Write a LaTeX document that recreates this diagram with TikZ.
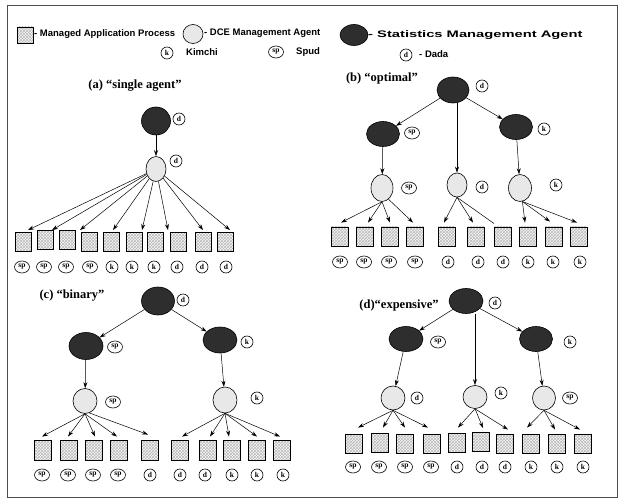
\documentclass[tikz,border=0pt]{standalone}
\usepackage{fontspec}
\setmainfont{Liberation Serif}
\newfontfamily\legfont{Liberation Sans}
\usetikzlibrary{shapes.geometric,patterns,arrows.meta,calc}
\begin{document}
\begin{tikzpicture}[x=1pt,y=-1pt,
  mp/.style={rectangle,draw,line width=0.9pt,minimum width=16pt,minimum height=19pt,inner sep=0pt,
    preaction={fill=gray!6},pattern=crosshatch,pattern color=gray!55},
  dce/.style={ellipse,draw,line width=0.6pt,fill=gray!18,inner sep=0pt},
  sma/.style={ellipse,draw,line width=0.6pt,fill=black!82,inner sep=0pt},
  lab/.style={ellipse,draw,line width=0.6pt,inner sep=0pt,minimum width=12pt,minimum height=12pt,font=\fontsize{7.5}{8}\selectfont\bfseries},
  labw/.style={lab,minimum width=15pt},
  ttl/.style={font=\fontsize{12.5}{14}\selectfont\bfseries,inner sep=0pt},
  leg/.style={font=\legfont\fontsize{9.5}{11}\selectfont\bfseries,inner sep=0pt,anchor=west},
  arr/.style={-{Stealth[length=6pt,width=4pt]},line width=0.5pt},
  ln/.style={line width=0.5pt}]
\useasboundingbox (0,0) rectangle (623,502);
\draw[line width=0.8pt,black!70] (7,5) rectangle (617,497);

% ---------- legend ----------
\node[mp,minimum width=16pt,minimum height=16pt] (legmp) at (25,35) {};
\node[leg] (legmpt) at (34,34) {- Managed Application Process};
\node[dce,minimum width=20pt,minimum height=19pt] (legdce) at (193,34) {};
\node[leg] (legdcet) at (204,33) {- DCE Management Agent};
\node[sma,minimum width=28pt,minimum height=21pt] (legsma) at (354,35) {};
\node[leg] (legsmat) at (368,35) {\scalebox{1.55}[1]{- Statistics Management Agent}};
\node[lab] (legk) at (167,53) {k};
\node[leg] (legkt) at (186,52) {Kimchi};
\node[labw] (legsp) at (276,52) {sp};
\node[leg] (legspt) at (296,52) {Spud};
\node[lab] (legd) at (406,55) {d};
\node[leg] (legdt) at (419,54) {- Dada};

% ---------- (a) single agent ----------
\node[ttl] (atitle) at (135,86) {(a) “single agent”};
\node[sma,minimum width=29pt,minimum height=28pt] (aT) at (156,121) {};
\node[lab] (aTl) at (179,119) {d};
\node[dce,minimum width=20pt,minimum height=25pt] (aG) at (156,169) {};
\node[lab] (aGl) at (176,161) {d};
\foreach \i/\x/\y in {1/23.5/242,2/45/240,3/67/240,4/89.5/242,5/111.5/242,6/134/242,7/155.5/242,8/178/242,9/203.5/242,10/225.5/242}
  \node[mp] (aS\i) at (\x,\y) {};
\foreach \i/\x/\t/\s in {1/22/sp/labw,2/44/sp/labw,3/66/sp/labw,4/90/sp/labw,5/112/k/lab,6/132/k/lab,7/154/k/lab,8/177/d/lab,9/202/d/lab,10/226/d/lab}
  \node[\s] (aL\i) at (\x,267) {\t};
\draw[arr] (aT) -- (aG);
\draw[arr] (aG) -- ([xshift=4.5pt,yshift=2pt]aS1.north);
\draw[arr] (aG) -- ([xshift=7pt,yshift=0pt]aS2.north);
\draw[arr] (aG) -- ([xshift=13pt,yshift=0pt]aS3.north);
\draw[arr] (aG) -- ([xshift=1.5pt,yshift=2pt]aS5.north);
\draw[arr] (aG) -- ([xshift=8pt,yshift=2pt]aS6.north);
\draw[arr] (aG) -- ([xshift=-10pt,yshift=2pt]aS8.north);
\draw[arr] (aG) -- ([xshift=-0.5pt,yshift=2pt]aS9.north);
\draw[arr] (aG) -- ([xshift=4.5pt,yshift=2pt]aS10.north);

% ---------- (b) optimal ----------
\node[ttl] (btitle) at (382,78) {(b) “optimal”};
\node[sma,minimum width=32pt,minimum height=26pt] (bT) at (453,90) {};
\node[lab] (bTl) at (482,86) {d};
\node[sma,minimum width=33pt,minimum height=25pt] (bL) at (383,134) {};
\node[labw] (bLl) at (412,133) {sp};
\node[sma,minimum width=33pt,minimum height=25pt] (bR) at (516,127) {};
\node[lab] (bRl) at (544,129) {k};
\node[dce,minimum width=22pt,minimum height=27pt] (bG1) at (382,188) {};
\node[labw] (bG1l) at (409,188) {sp};
\node[dce,minimum width=20pt,minimum height=24pt] (bG2) at (457,185) {};
\node[lab] (bG2l) at (482,187) {d};
\node[dce,minimum width=23pt,minimum height=27pt] (bG3) at (520,188) {};
\node[lab] (bG3l) at (556,185) {k};
\foreach \i/\x in {1/339.5,2/364.5,3/389.5,4/415,5/446.5,6/476,7/503,8/528,9/553.5,10/578.5}
  \node[mp,minimum width=17pt] (bS\i) at (\x,236.5) {};
\foreach \i/\x/\t/\s in {1/340/sp/labw,2/364/sp/labw,3/389/sp/labw,4/415/sp/labw,5/448/d/lab,6/478/d/lab,7/503/d/lab,8/528/k/lab,9/553/k/lab,10/580/k/lab}
  \node[\s] (bL\i) at (\x,262) {\t};
\draw[arr] (bT) -- (bL);
\draw[arr] (bT) -- (bR);
\draw[arr] (bG2 |- bT.south) -- (bG2.north);
\draw[arr] (bL) -- (bG1);
\draw[arr] (bR) -- (bG3);
\draw[arr] (bG1.south) -- ([xshift=1.5pt,yshift=4pt]bS1.north);
\draw[arr] (bG1.south) -- ([xshift=3.5pt,yshift=4pt]bS2.north);
\draw[arr] (bG1.south) -- ([xshift=0.5pt,yshift=4pt]bS3.north);
\draw[arr] (bG1.-60) -- ([xshift=-2pt,yshift=4pt]bS4.north);
\draw[arr] (bG2.south) -- ([xshift=-2.5pt,yshift=4pt]bS5.north);
\draw[arr] (bG2.south) -- ([xshift=-3pt,yshift=4pt]bS6.north);
\draw[ln] (bG2.south) -- ([yshift=3pt]bS7.north west);
\draw[arr] (bG3.-80) -- ([xshift=-3pt,yshift=4pt]bS8.north);
\draw[arr] (bG3.-80) -- ([xshift=-3.5pt,yshift=5pt]bS9.north);
\draw[arr] (bG3.-80) -- ([xshift=-1.5pt,yshift=4pt]bS10.north);

% ---------- (c) binary ----------
\node[ttl] (ctitle) at (72,296) {(c) “binary”};
\node[sma,minimum width=33pt,minimum height=28pt] (cT) at (158,301) {};
\node[lab] (cTl) at (183,300) {d};
\node[sma,minimum width=34pt,minimum height=27pt] (cL) at (86,346) {};
\node[labw] (cLl) at (115,347) {sp};
\node[sma,minimum width=34pt,minimum height=26pt] (cR) at (220,340) {};
\node[lab] (cRl) at (247,342) {k};
\node[dce,minimum width=24pt,minimum height=25pt] (cG1) at (85,401) {};
\node[labw] (cG1l) at (113,402) {sp};
\node[dce,minimum width=24pt,minimum height=26pt] (cG2) at (225,400) {};
\node[lab] (cG2l) at (257,398) {k};
\foreach \i/\x in {1/42.5,2/68.5,3/93.5,4/118.5,5/150,6/180,7/207.5,8/231.5,9/256.5,10/281.5}
  \node[mp,minimum width=17pt,minimum height=20pt] (cS\i) at (\x,450) {};
\foreach \i/\x/\t/\s in {1/42/sp/labw,2/68/sp/labw,3/93/sp/labw,4/118/sp/labw,5/150/d/lab,6/180/d/lab,7/205/d/lab,8/232/k/lab,9/257/k/lab,10/283/k/lab}
  \node[\s] (cL\i) at (\x,475) {\t};
\draw[arr] (cT) -- (cL);
\draw[arr] (cT) -- (cR);
\draw[arr] (cL) -- (cG1);
\draw[arr] (cR) -- (cG2);
\draw[arr] (cG1.south) -- ([xshift=-0.5pt,yshift=3pt]cS1.north);
\draw[arr] (cG1.south) -- ([xshift=-0.5pt,yshift=3pt]cS2.north);
\draw[arr] (cG1.south) -- ([xshift=1.5pt,yshift=3pt]cS3.north);
\draw[arr] (cG1.south) -- ([xshift=-1.5pt,yshift=3pt]cS4.north);
\draw[arr] (cG1.-70) -- ([xshift=-2pt,yshift=5pt]cS5.north);
\draw[arr] (cG2.south) -- ([xshift=2pt,yshift=3pt]cS6.north);
\draw[arr] (cG2.south) -- ([xshift=2.5pt,yshift=3pt]cS7.north);
\draw[arr] (cG2.south) -- ([xshift=-2.5pt,yshift=3pt]cS8.north);
\draw[arr] (cG2.south) -- ([xshift=0.5pt,yshift=3pt]cS9.north);
\draw[arr] (cG2.south) -- ([xshift=-1.5pt,yshift=3pt]cS10.north);

% ---------- (d) expensive ----------
\node[ttl] (dtitle) at (399,305) {(d)“expensive”};
\node[sma,minimum width=34pt,minimum height=25pt] (dT) at (466,301) {};
\node[lab] (dTl) at (495,303) {d};
\node[sma,minimum width=34pt,minimum height=25pt] (dL) at (406,339) {};
\node[labw] (dLl) at (438,342) {sp};
\node[sma,minimum width=33pt,minimum height=25pt] (dR) at (536,339) {};
\node[lab] (dRl) at (570,342) {k};
\node[dce,minimum width=24pt,minimum height=24pt] (dG1) at (393,398) {};
\node[lab] (dG1l) at (417,398) {d};
\node[dce,minimum width=24pt,minimum height=23pt] (dG2) at (475,397) {};
\node[lab] (dG2l) at (501,393) {k};
\node[dce,minimum width=23pt,minimum height=24pt] (dG3) at (544,398) {};
\node[labw] (dG3l) at (570,398) {sp};
\foreach \i/\x/\y in {1/353.5/443.5,2/379.5/442.5,3/405/443.5,4/431.5/443.5,5/457/442.5,6/480.5/442,7/505/443.5,8/531/443.5,9/557/443.5,10/583/443.5}
  \node[mp,minimum width=17pt] (dS\i) at (\x,\y) {};
\foreach \i/\x/\t/\s in {1/353/sp/labw,2/379/sp/labw,3/405/sp/labw,4/431/sp/labw,5/457/d/lab,6/482/d/lab,7/505/d/lab,8/531/k/lab,9/557/k/lab,10/583/k/lab}
  \node[\s] (dL\i) at (\x,467) {\t};
\draw[arr] (dT) -- (dL);
\draw[arr] (dT) -- (dR);
\draw[arr] (dG2 |- dT.south) -- (dG2.north);
\draw[arr] (dL) -- (dG1);
\draw[arr] (dR) -- (dG3);
\draw[arr] (dG1.south) -- ([xshift=4.5pt,yshift=6pt]dS1.north);
\draw[arr] (dG1.south) -- ([xshift=3.5pt,yshift=5pt]dS2.north);
\draw[arr] (dG1.south) -- ([xshift=0pt,yshift=6pt]dS3.north);
\draw[arr] (dG1.south) -- ([xshift=-3.5pt,yshift=6pt]dS4.north);
\draw[arr] (dG2.south) -- ([xshift=1pt,yshift=5pt]dS5.north);
\draw[arr] (dG2.south) -- ([xshift=2.5pt,yshift=4pt]dS6.north);
\draw[arr] (dG2.south) -- ([xshift=3pt,yshift=4pt]dS7.north);
\draw[arr] (dG3.south) -- ([xshift=-4pt,yshift=6pt]dS8.north);
\draw[arr] (dG3.south) -- ([xshift=-2pt,yshift=4pt]dS9.north);
\draw[arr] (dG3.south) -- ([xshift=-3pt,yshift=4pt]dS10.north);
\end{tikzpicture}
\end{document}
